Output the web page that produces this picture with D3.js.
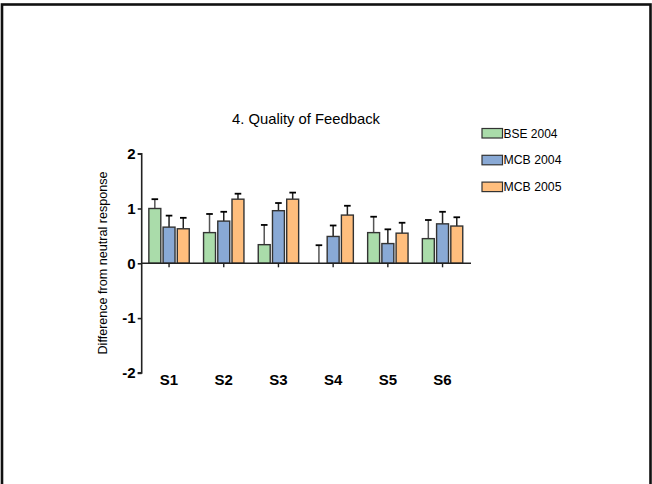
<!DOCTYPE html>
<html>
<head>
<meta charset="utf-8">
<script src="https://cdn.jsdelivr.net/npm/d3@7/dist/d3.min.js"></script>
<style>
  html, body { margin: 0; padding: 0; background: #fff; }
  svg { display: block; }
  text { font-family: "Liberation Sans", Arial, sans-serif; }
</style>
</head>
<body>
<svg id="chart" width="652" height="484"></svg>
<script>
// Survey items
const categories = ["S1", "S2", "S3", "S4", "S5", "S6"];
// Series names
const seriesNames = ["BSE 2004", "MCB 2004", "MCB 2005"];
// Mean difference from neutral response, per series
const bse2004 = [1.00, 0.56, 0.34, 0.00, 0.56, 0.45];
const mcb2004 = [0.66, 0.77, 0.96, 0.49, 0.36, 0.72];
const mcb2005 = [0.63, 1.17, 1.17, 0.88, 0.55, 0.68];
// Upper error (mean + error)
const bse2004Err = [1.17, 0.90, 0.70, 0.33, 0.85, 0.79];
const mcb2004Err = [0.87, 0.94, 1.10, 0.69, 0.62, 0.94];
const mcb2005Err = [0.83, 1.27, 1.29, 1.05, 0.74, 0.84];
const yTicks = [-2, -1, 0, 1, 2];
const colors = ["#aadcaa", "#89a9d5", "#ffbe7d"];

const values = [bse2004, mcb2004, mcb2005];
const errs = [bse2004Err, mcb2004Err, mcb2005Err];

const svg = d3.select("#chart");

// outer frame
svg.append("rect")
  .attr("x", 2).attr("y", 4.5)
  .attr("width", 648.5).attr("height", 500)
  .attr("fill", "none").attr("stroke", "#111").attr("stroke-width", 2.6);

const x = d3.scaleBand().domain(categories).range([141.7, 469.9]).paddingInner(0).paddingOuter(0);
const y = d3.scaleLinear().domain([-2, 2]).range([372.9, 153.7]);
const inner = d3.scaleBand().domain(d3.range(3)).range([-20.2, 20.2]).paddingInner(0.16);

// title
svg.append("text")
  .attr("x", 306).attr("y", 124)
  .attr("text-anchor", "middle")
  .attr("font-size", 14.5)
  .attr("textLength", 148).attr("lengthAdjust", "spacingAndGlyphs")
  .text("4. Quality of Feedback");

// y-axis label
svg.append("text")
  .attr("transform", "translate(107,263) rotate(-90)")
  .attr("text-anchor", "middle")
  .attr("font-size", 12)
  .attr("textLength", 183).attr("lengthAdjust", "spacingAndGlyphs")
  .text("Difference from neutral response");

// bars
const groups = svg.append("g").selectAll("g")
  .data(categories)
  .join("g")
  .attr("transform", d => `translate(${x(d) + x.bandwidth() / 2},0)`);

groups.each(function(cat, ci) {
  const g = d3.select(this);
  values.forEach((vals, si) => {
    const v = vals[ci];
    const bx = inner(si);
    const bw = inner.bandwidth();
    const cx = bx + bw / 2;
    // error bar
    g.append("line")
      .attr("x1", cx).attr("x2", cx)
      .attr("y1", y(v)).attr("y2", y(errs[si][ci]))
      .attr("stroke", si === 0 ? "#555" : "#222").attr("stroke-width", 1.5);
    g.append("line")
      .attr("x1", cx - 3.3).attr("x2", cx + 3.3)
      .attr("y1", y(errs[si][ci])).attr("y2", y(errs[si][ci]))
      .attr("stroke", "#000").attr("stroke-width", 1.8);
    if (v > 0) {
      g.append("rect")
        .attr("x", bx).attr("y", y(v))
        .attr("width", bw).attr("height", y(0) - y(v))
        .attr("fill", colors[si])
        .attr("stroke", "#333").attr("stroke-width", 1.4);
    }
  });
});

// y axis
const yAxis = svg.append("g")
  .attr("transform", "translate(141.7,0)")
  .call(d3.axisLeft(y).tickValues(yTicks).tickSize(4).tickPadding(2).tickFormat(d => String(d)));
yAxis.select(".domain").attr("stroke", "#222").attr("stroke-width", 1.6).attr("d", `M-4,${y(2)}H0V${y(-2)}H-4`);
yAxis.selectAll(".tick line").attr("stroke", "#222").attr("stroke-width", 1.6);
yAxis.selectAll(".tick text")
  .attr("font-size", 15).attr("font-weight", "bold")
  .attr("font-family", "Liberation Sans, Arial, sans-serif")
  .attr("fill", "#000");

// x axis line at zero
const xAxis = svg.append("g")
  .attr("transform", `translate(0,${y(0)})`)
  .call(d3.axisBottom(x).tickSize(4).tickFormat(""));
xAxis.select(".domain").attr("stroke", "#222").attr("stroke-width", 1.6).attr("d", `M141.7,0H471`);
xAxis.selectAll(".tick line").attr("stroke", "#222").attr("stroke-width", 1.4);

// category labels
svg.append("g").selectAll("text")
  .data(categories)
  .join("text")
  .attr("x", d => x(d) + x.bandwidth() / 2)
  .attr("y", 385)
  .attr("text-anchor", "middle")
  .attr("font-size", 15).attr("font-weight", "bold")
  .text(d => d);

// legend
const legend = svg.append("g").selectAll("g")
  .data(seriesNames)
  .join("g")
  .attr("transform", (d, i) => `translate(482,${128.5 + i * 26.8})`);
legend.append("rect")
  .attr("width", 20.5).attr("height", 9.5)
  .attr("fill", (d, i) => colors[i])
  .attr("stroke", "#333").attr("stroke-width", 1.2);
legend.append("text")
  .attr("x", 21.5).attr("y", 9)
  .attr("font-size", 12)
  .attr("textLength", d => d.startsWith("BSE") ? 54 : 58)
  .attr("lengthAdjust", "spacingAndGlyphs")
  .text(d => d);
</script>
</body>
</html>
